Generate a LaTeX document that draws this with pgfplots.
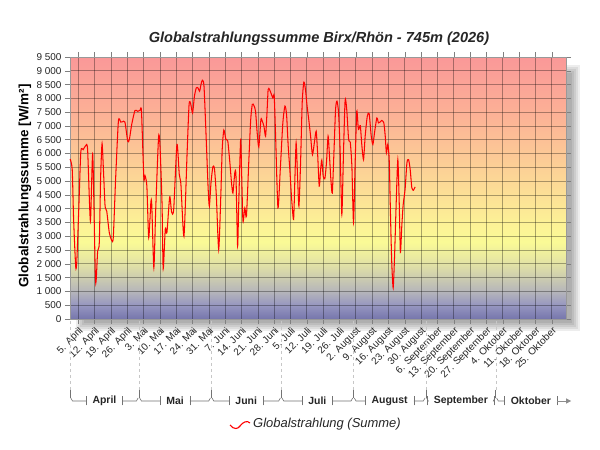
\documentclass[border=0pt]{standalone}
\usepackage{pgfplots}
\pgfplotsset{compat=1.18}
\usepackage{fontspec}
\setmainfont{Liberation Sans}
\usetikzlibrary{arrows.meta,calc}

\definecolor{c0}{RGB}{118,118,172}
\definecolor{c1}{RGB}{150,150,192}
\definecolor{c2}{RGB}{182,182,186}
\definecolor{c3}{RGB}{226,226,165}
\definecolor{c4}{RGB}{250,250,150}
\definecolor{c5}{RGB}{252,244,150}
\definecolor{c6}{RGB}{252,224,150}
\definecolor{c7}{RGB}{252,200,150}
\definecolor{c8}{RGB}{252,176,150}
\definecolor{c9}{RGB}{250,152,152}
\pgfdeclareverticalshading{bgshade}{100bp}{color(0bp)=(c0); color(25bp)=(c0); color(27.6bp)=(c1); color(30.3bp)=(c2); color(35.5bp)=(c3); color(39.7bp)=(c4); color(42.4bp)=(c5); color(48.7bp)=(c6); color(56.6bp)=(c7); color(64.5bp)=(c8); color(75bp)=(c9); color(100bp)=(c9)}

\begin{document}
\begin{tikzpicture}
\path[use as bounding box] (0,0) rectangle (600bp,450bp);
\fill[white] (0,0) rectangle (600bp,450bp);
% shadow
\foreach \k in {0,1,2,3,4}{
  \fill[black,opacity=0.07] ({(76+2*\k)*1bp},{(119+2*\k)*1bp}) rectangle ({(580-2*\k)*1bp},{(385-2*\k)*1bp});
}
\begin{axis}[
  at={(70bp,131bp)}, anchor=south west,
  width=496bp, height=262bp, scale only axis,
  xmin=0.45, xmax=213.1, ymin=0, ymax=9500,
  axis background/.style={shading=bgshade},
  ytick={0,500,...,9500},
  xtick={4,11,...,207},
  xticklabels={5. April,12. April,19. April,26. April,3. Mai,10. Mai,17. Mai,24. Mai,31. Mai,7. Juni,14. Juni,21. Juni,28. Juni,5. Juli,12. Juli,19. Juli,26. Juli,2. August,9. August,16. August,23. August,30. August,6. September,13. September,20. September,27. September,4. Oktober,11. Oktober,18. Oktober,25. Oktober},
  xticklabel style={rotate=45, anchor=north east, inner sep=1.5bp, font=\fontsize{10}{11}\selectfont, text=black!85},
  yticklabel style={font=\fontsize{10}{11}\selectfont, text=black!85},
  /pgf/number format/.cd, 1000 sep={\ }, assume math mode=true, /pgfplots/.cd,
  grid=major,
  major grid style={black, opacity=0.33, line width=0.75bp},
  axis line style={draw=black!40},
  tick style={black!50, line width=0.5bp},
  tick align=outside, major tick length=5bp,
  clip=false,
]
\addplot[red, line width=1.05bp, smooth, tension=0.4] coordinates {
(0.5,5800)(1.4,5420)(2.0,3610)(2.9,1890)(3.4,2140)(4.3,4210)(5.1,6080)(6.1,6140)(7.2,6290)(8.0,6140)
(9.2,3550)(10.2,5960)(11.4,1370)(12.3,2460)(13.0,2760)(13.6,5180)(14.2,6360)(14.9,5180)(15.5,4090)(16.2,3910)
(17.3,3130)(18.3,2860)(19.0,2950)(20.0,5060)(21.2,7170)(22.2,7140)(22.9,7150)(24.0,7140)(25.2,6450)(25.9,6510)
(26.9,7050)(28.3,7560)(29.5,7530)(30.5,7570)(31.1,7530)(32.1,5120)(32.6,5200)(33.4,4820)(34.2,2950)(35.1,4210)
(35.5,4150)(36.4,1860)(37.2,3970)(38.4,6570)(39.0,6330)(39.9,4210)(40.4,1820)(41.3,3270)(42.0,3130)(43.2,4430)
(44.0,3880)(44.9,3970)(46.3,6330)(47.3,5240)(48.0,4880)(49.3,3000)(50.6,5900)(51.5,7780)(52.2,7800)(53.0,7470)
(53.8,8080)(54.6,8380)(55.3,8380)(56.0,8260)(56.6,8500)(57.2,8660)(57.9,8440)(58.8,6630)(59.7,4690)(60.2,4090)
(60.9,4940)(61.7,5520)(62.4,5440)(63.2,4450)(64.2,2520)(65.1,4450)(65.7,6140)(66.4,6850)(67.3,6510)(68.1,6450)
(69.0,5660)(69.7,4940)(70.3,4570)(71.1,5300)(71.6,5200)(72.3,2640)(72.8,4210)(73.6,6510)(74.0,5420)(74.6,3550)
(75.4,4030)(76.1,3730)(77.1,5700)(77.9,7200)(78.6,7780)(79.3,7740)(80.0,7530)(80.7,6750)(81.4,6240)(82.3,7230)
(82.9,7170)(83.6,6990)(84.3,6630)(84.9,7470)(85.4,8320)(86.0,8320)(86.7,8170)(87.4,8020)(88.0,8080)(88.6,6630)
(89.6,4030)(90.6,5420)(91.7,7110)(92.6,7720)(93.3,7410)(94.0,6270)(94.7,5420)(95.4,4450)(96.3,3610)(96.9,5180)
(97.4,6390)(98.0,5180)(98.6,4090)(99.3,5660)(100.0,7840)(100.7,8590)(101.4,8320)(102.1,7720)(102.9,7170)(103.6,6630)
(104.4,5960)(105.3,6450)(106.0,6810)(106.6,6020)(107.3,4820)(107.9,5420)(108.4,5760)(109.0,5180)(109.7,5080)(110.4,5660)
(111.1,6630)(111.7,5900)(112.3,5060)(112.9,4570)(113.6,6020)(114.3,7590)(114.9,7900)(115.6,7470)(116.3,6020)(117.0,3790)
(117.7,6020)(118.4,7930)(119.1,7590)(119.9,6510)(120.6,6410)(121.3,5540)(122.0,3490)(122.7,5660)(123.4,7530)(124.1,6870)
(124.9,7010)(125.6,6270)(126.3,5780)(127.0,6630)(127.9,7350)(128.7,7450)(129.6,6630)(130.3,6330)(131.0,6750)(132.0,7290)
(132.7,7110)(133.4,7140)(134.1,7200)(135.0,7110)(135.6,6630)(136.1,6020)(136.7,6330)(137.3,5780)(137.9,3610)(138.4,2040)
(139.0,1130)(139.6,2280)(140.3,4210)(141.0,5780)(141.6,4210)(142.1,2420)(142.7,3370)(143.3,4150)(144.1,4690)(144.9,5660)
(145.6,5780)(146.3,5420)(147.0,4760)(147.7,4670)(148.4,4790)
};
\coordinate (b0) at (axis cs:0.45,0);
\coordinate (b1) at (axis cs:30,0);
\coordinate (b2) at (axis cs:61,0);
\coordinate (b3) at (axis cs:91,0);
\coordinate (b4) at (axis cs:122,0);
\coordinate (b5) at (axis cs:153,0);
\coordinate (b6) at (axis cs:183,0);
\coordinate (b7) at (axis cs:213.1,0);
\end{axis}
% month axis
\foreach \b in {b0,b1,b2,b3,b4,b5,b6}{
  \draw[black!22, dashed, line width=0.5bp] ([yshift=-2bp]\b) -- ([yshift=-71bp]\b);
  \draw[black!55, line width=0.6bp] ([yshift=-71bp]\b) -- ([yshift=-79bp]\b);
}
\foreach \l/\r/\name in {b0/b1/April,b1/b2/Mai,b2/b3/Juni,b3/b4/Juli,b4/b5/August,b5/b6/September}{
  \node[font=\bfseries\fontsize{10.5}{12}\selectfont, inner xsep=6bp, text=black!85] (lab) at ($([yshift=-82bp]\l)!0.5!([yshift=-82bp]\r)$) {\name};
  \draw[black!55, line width=0.6bp] ([yshift=-79bp,xshift=0.8bp]\l) -- ([yshift=-82bp,xshift=2.5bp]\l) -- (lab.west);
  \draw[black!55, line width=0.6bp] ([yshift=-79bp,xshift=-0.8bp]\r) -- ([yshift=-82bp,xshift=-2.5bp]\r) -- (lab.east);
  \draw[black!55, line width=0.6bp] ([yshift=-4.5bp]lab.west) -- ([yshift=4.5bp]lab.west);
  \draw[black!55, line width=0.6bp] ([yshift=-4.5bp]lab.east) -- ([yshift=4.5bp]lab.east);
}
\node[font=\bfseries\fontsize{10.5}{12}\selectfont, inner xsep=6bp, text=black!85] (lab) at ($([yshift=-82bp]b6)!0.5!([yshift=-82bp]b7)$) {Oktober};
\draw[black!55, line width=0.6bp] ([yshift=-79bp,xshift=0.8bp]b6) -- ([yshift=-82bp,xshift=2.5bp]b6) -- (lab.west);
\draw[black!55, line width=0.6bp] ([yshift=-4.5bp]lab.west) -- ([yshift=4.5bp]lab.west);
\draw[black!55, line width=0.6bp] ([yshift=-4.5bp]lab.east) -- ([yshift=4.5bp]lab.east);
\draw[black!45, line width=0.6bp, -{Triangle[length=5bp,width=5bp]}] (lab.east) -- ++(14bp,0);
% titles
\node[font=\bfseries\itshape\fontsize{14.6}{16}\selectfont, text=black!85] at (319bp,411bp) {Globalstrahlungssumme Birx/Rhön - 745m (2026)};
\node[rotate=90, font=\bfseries\fontsize{13.5}{15}\selectfont] at (25bp,264bp) {Globalstrahlungssumme [W/m²]};
% legend
\draw[red, line width=1.1bp] (230bp,25bp) .. controls (234bp,20bp) and (238bp,21bp) .. (240bp,24bp) .. controls (243bp,28bp) and (247bp,30bp) .. (250bp,27bp);
\node[anchor=west, font=\itshape\fontsize{13}{15}\selectfont, inner sep=1bp, text=black!85] at (252bp,25.5bp) {Globalstrahlung (Summe)};
\end{tikzpicture}
\end{document}
